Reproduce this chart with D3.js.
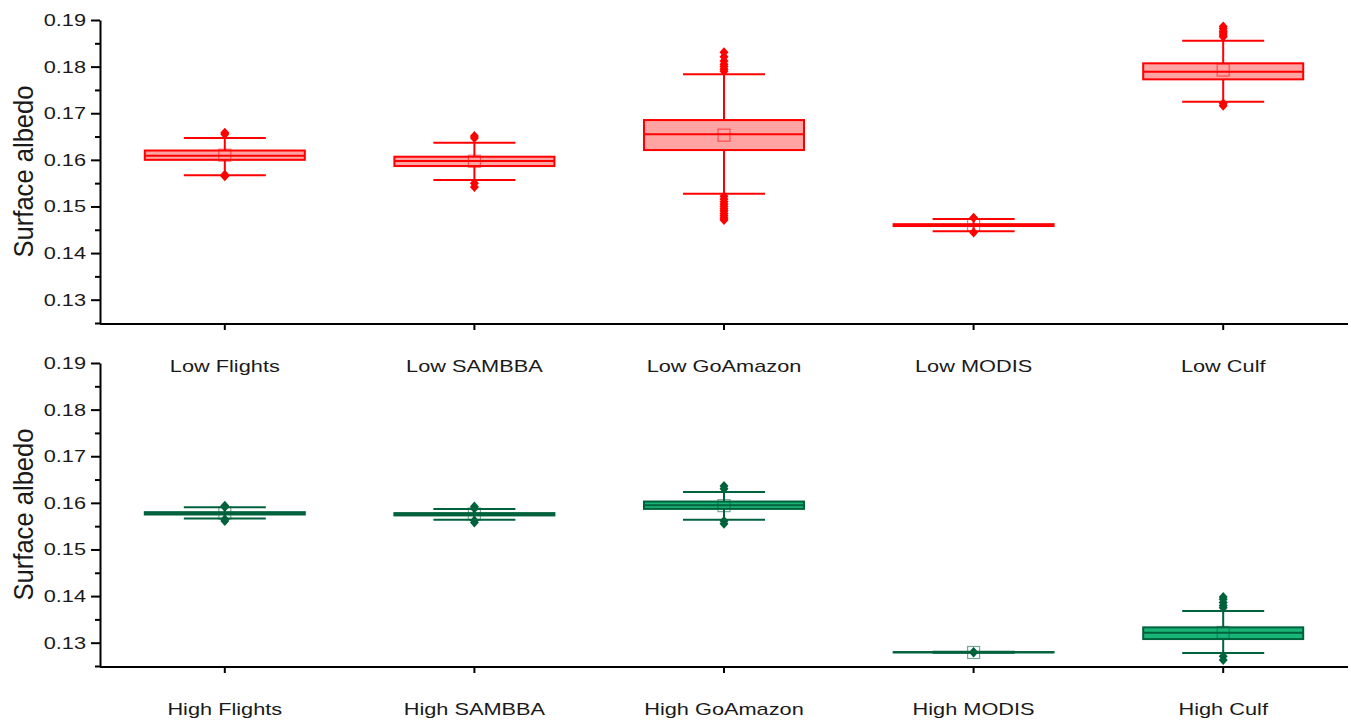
<!DOCTYPE html>
<html>
<head>
<meta charset="utf-8">
<script src="https://cdn.jsdelivr.net/npm/d3@7"></script>
<style>
  html, body { margin: 0; padding: 0; background: #fff; }
  svg { display: block; }
  text { font-family: "Liberation Sans", Arial, sans-serif; fill: #1a1a1a; }
</style>
</head>
<body>
<svg id="chart" width="1351" height="723"></svg>
<script>
// ---- data: surface albedo box statistics ----
const lowCategories  = ["Low Flights", "Low SAMBBA", "Low GoAmazon", "Low MODIS", "Low Culf"];
const lowQ1          = [0.1600, 0.15867, 0.1621, 0.1458, 0.17727];
const lowMedian      = [0.1609, 0.15974, 0.16547, 0.1460, 0.17891];
const lowQ3          = [0.1620, 0.16067, 0.16854, 0.1462, 0.18071];
const lowMean        = [0.1610, 0.1597, 0.1653, 0.1460, 0.17927];
const lowWhiskerLow  = [0.1567, 0.15567, 0.15273, 0.1447, 0.17247];
const lowWhiskerHigh = [0.1647, 0.16367, 0.17835, 0.1473, 0.18556];
const lowOutliers = [
  [0.1658, 0.1655, 0.1568, 0.1565],
  [0.1651, 0.1647, 0.1550, 0.1542],
  [0.1831, 0.1821, 0.1812, 0.1805, 0.1800, 0.1795, 0.1790,
   0.1522, 0.1516, 0.1510, 0.1505, 0.1500, 0.1495, 0.1490, 0.1485, 0.1480, 0.1475, 0.1471],
  [0.1476, 0.1444],
  [0.1886, 0.1881, 0.1876, 0.1872, 0.1868, 0.1864, 0.1721, 0.1716]
];

const highCategories  = ["High Flights", "High SAMBBA", "High GoAmazon", "High MODIS", "High Culf"];
const highQ1          = [0.1575, 0.1573, 0.1587, 0.12793, 0.13078];
const highMedian      = [0.1577, 0.15756, 0.15949, 0.12795, 0.13215];
const highQ3          = [0.1580, 0.1578, 0.16028, 0.12797, 0.13329];
const highMean        = [0.1578, 0.1576, 0.1594, 0.1279, 0.1322];
const highWhiskerLow  = [0.15662, 0.15640, 0.15640, 0.12785, 0.12778];
const highWhiskerHigh = [0.15907, 0.15869, 0.16235, 0.12805, 0.13680];
const highOutliers = [
  [0.1594, 0.1591, 0.1565, 0.1561],
  [0.1592, 0.1588, 0.1562, 0.1558],
  [0.1636, 0.1630, 0.1561, 0.1555],
  [0.1280, 0.1279],
  [0.1398, 0.1393, 0.1386, 0.1380, 0.1375, 0.1271, 0.1263]
];

const yMajorTicks = [0.13, 0.14, 0.15, 0.16, 0.17, 0.18, 0.19];
const yMinorTicks = [0.125, 0.135, 0.145, 0.155, 0.165, 0.175, 0.185];
const yDomain = [0.125, 0.19];
const yTitle = "Surface albedo";

// ---- layout ----
const svg = d3.select("#chart");
const xLeft = 100, xRight = 1348;
const stretch = 1.28;         // horizontal stretch of the lettering
const boxW = 160, capW = 82;

function diamondPath(cx, cy) {
  const hw = 4.5, hh = 5;
  return `M${cx},${cy - hh}L${cx + hw},${cy}L${cx},${cy + hh}L${cx - hw},${cy}Z`;
}

function drawPanel(cfg) {
  const g = svg.append("g");
  const x = d3.scaleBand().domain(cfg.categories).range([xLeft, xRight]).padding(0);
  const y = d3.scaleLinear().domain(yDomain).range([cfg.bottom, cfg.top]);

  // y axis: minor ticks, then major ticks with labels
  const yMinor = g.append("g").attr("transform", `translate(${xLeft},0)`)
    .call(d3.axisLeft(y).tickValues(yMinorTicks).tickSize(5).tickFormat("").tickSizeOuter(0));
  yMinor.select(".domain").remove();
  yMinor.selectAll("line").attr("stroke", "#000").attr("stroke-width", 2);

  const yAxis = g.append("g").attr("transform", `translate(${xLeft},0)`)
    .call(d3.axisLeft(y).tickValues(yMajorTicks).tickSize(9).tickSizeOuter(0)
      .tickFormat(d3.format(".2f")));
  yAxis.select(".domain").attr("stroke", "#000").attr("stroke-width", 2);
  yAxis.selectAll("line").attr("stroke", "#000").attr("stroke-width", 2);
  yAxis.selectAll("text")
    .attr("x", -14 / stretch)
    .attr("transform", `scale(${stretch},1)`)
    .style("font-size", "17px").style("fill", "#1a1a1a");

  // x axis with category labels
  const xAxis = g.append("g").attr("transform", `translate(0,${cfg.bottom + 1})`)
    .call(d3.axisBottom(x).tickSize(6).tickSizeOuter(0).tickPadding(30));
  xAxis.select(".domain").attr("stroke", "#000").attr("stroke-width", 2)
    .attr("d", `M${xLeft},0H${xRight}`);
  xAxis.selectAll("line").attr("stroke", "#000").attr("stroke-width", 2);
  xAxis.selectAll("text")
    .attr("transform", `scale(${stretch},1)`)
    .style("font-size", "17px").style("fill", "#1a1a1a");

  // y axis title
  g.append("text")
    .attr("transform", `translate(33,${(cfg.top + cfg.bottom) / 2}) rotate(-90) scale(1,1.18)`)
    .attr("text-anchor", "middle")
    .attr("textLength", 172)
    .attr("lengthAdjust", "spacingAndGlyphs")
    .style("font-size", "24px")
    .text(yTitle);

  // boxes
  cfg.categories.forEach((c, i) => {
    const cx = x(c) + x.bandwidth() / 2;
    const b = g.append("g");
    // whiskers
    b.append("line").attr("x1", cx).attr("x2", cx)
      .attr("y1", y(cfg.whiskerHigh[i])).attr("y2", y(cfg.q3[i]))
      .attr("stroke", cfg.stroke).attr("stroke-width", 2);
    b.append("line").attr("x1", cx).attr("x2", cx)
      .attr("y1", y(cfg.q1[i])).attr("y2", y(cfg.whiskerLow[i]))
      .attr("stroke", cfg.stroke).attr("stroke-width", 2);
    [cfg.whiskerHigh[i], cfg.whiskerLow[i]].forEach(v => {
      b.append("line").attr("x1", cx - capW / 2).attr("x2", cx + capW / 2)
        .attr("y1", y(v)).attr("y2", y(v))
        .attr("stroke", cfg.stroke).attr("stroke-width", 2);
    });
    // box
    b.append("rect")
      .attr("x", cx - boxW / 2).attr("width", boxW)
      .attr("y", y(cfg.q3[i])).attr("height", Math.max(0.1, y(cfg.q1[i]) - y(cfg.q3[i])))
      .attr("fill", cfg.fill).attr("fill-opacity", cfg.fillOpacity)
      .attr("stroke", cfg.stroke).attr("stroke-width", 2);
    // median
    b.append("line").attr("x1", cx - boxW / 2).attr("x2", cx + boxW / 2)
      .attr("y1", y(cfg.median[i])).attr("y2", y(cfg.median[i]))
      .attr("stroke", cfg.stroke).attr("stroke-width", 2);
    // mean marker
    b.append("rect")
      .attr("x", cx - 6).attr("y", y(cfg.mean[i]) - 6)
      .attr("width", 12).attr("height", 12)
      .attr("fill", "none").attr("stroke", cfg.stroke)
      .attr("stroke-opacity", 0.55).attr("stroke-width", 1.2);
    // outliers
    b.selectAll("path.out").data(cfg.outliers[i]).enter().append("path")
      .attr("class", "out")
      .attr("d", v => diamondPath(cx, y(v)))
      .attr("fill", cfg.stroke);
  });
}

drawPanel({
  categories: lowCategories, q1: lowQ1, median: lowMedian, q3: lowQ3, mean: lowMean,
  whiskerLow: lowWhiskerLow, whiskerHigh: lowWhiskerHigh, outliers: lowOutliers,
  top: 20, bottom: 323, stroke: "#ff0000", fill: "#ff0000", fillOpacity: 0.36
});

drawPanel({
  categories: highCategories, q1: highQ1, median: highMedian, q3: highQ3, mean: highMean,
  whiskerLow: highWhiskerLow, whiskerHigh: highWhiskerHigh, outliers: highOutliers,
  top: 363, bottom: 666, stroke: "#00623c", fill: "#19b477", fillOpacity: 1
});
</script>
</body>
</html>
